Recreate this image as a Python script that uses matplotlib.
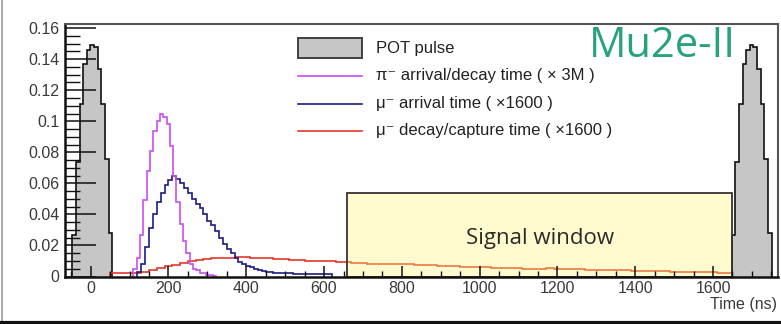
import numpy as np
import matplotlib
matplotlib.use("Agg")
import matplotlib.pyplot as plt
from matplotlib.patches import Rectangle
from matplotlib.lines import Line2D
from matplotlib.ticker import MultipleLocator, FormatStrFormatter

plt.rcParams['font.family'] = ['Liberation Sans', 'DejaVu Sans']

# ---------------- data ----------------
# POT pulse (offsets from pulse centre, ns) and heights
pot_offsets = [-47, -37.7, -28.4, -19.1, -9.8, -0.5, 8.8, 18.1, 27.4, 36.7, 46, 55.3]
pot_values = [0.027, 0.074, 0.111, 0.137, 0.146, 0.149, 0.148, 0.134, 0.111, 0.076, 0.028]
pot_centres = [0, 1695]

# pi- arrival/decay time (x 3M)
pi_start, pi_width = 110, 8.5
pi_values = [0.005, 0.012, 0.027, 0.049, 0.068, 0.081, 0.094, 0.100, 0.105, 0.103,
             0.098, 0.084, 0.065, 0.048, 0.034, 0.023, 0.015, 0.008, 0.005, 0.004,
             0.002, 0.002, 0.001, 0.001, 0.0005]

# mu- arrival time (x1600)
mu_start, mu_width = 120, 10
mu_values = [0.003, 0.008, 0.019, 0.031, 0.040, 0.048, 0.054, 0.059, 0.062, 0.065,
             0.063, 0.060, 0.057, 0.054, 0.050, 0.047, 0.044, 0.040, 0.036, 0.033,
             0.029, 0.025, 0.021, 0.018, 0.015, 0.012, 0.0095, 0.008, 0.0068, 0.0058,
             0.0049, 0.0042, 0.0036, 0.0031, 0.0028, 0.0025, 0.0023, 0.0021, 0.002, 0.002,
             0.0019, 0.0019, 0.0018, 0.0018, 0.0017, 0.0017, 0.0016, 0.0015, 0.0015, 0.0014]

# mu- decay/capture time (x1600)
dec_start, dec_width = 50, 20
dec_values = [0.0021, 0.0021, 0.0022, 0.0024, 0.0030, 0.0040, 0.0052, 0.0066, 0.0077, 0.0088,
              0.0098, 0.0106, 0.0112, 0.0116, 0.0119, 0.0122, 0.0123, 0.0123, 0.0122, 0.0121,
              0.0118, 0.0114, 0.0112, 0.0108, 0.0105, 0.0103, 0.0101, 0.0100, 0.0098, 0.0096,
              0.0092, 0.0090, 0.0088, 0.0082, 0.0080, 0.0081, 0.0079, 0.0080, 0.0078, 0.0076,
              0.0074, 0.0072, 0.0070, 0.0069, 0.0067, 0.0064, 0.0060, 0.0058, 0.0060, 0.0056,
              0.0055, 0.0054, 0.0052, 0.0051, 0.0050, 0.0050, 0.0052, 0.0051, 0.0050, 0.0048,
              0.0046, 0.0045, 0.0043, 0.0044, 0.0042, 0.0041, 0.0040, 0.0038, 0.0037, 0.0036,
              0.0034, 0.0035, 0.0032, 0.0030, 0.0029, 0.0028, 0.0027, 0.0026, 0.0025, 0.0024]

signal_window = (660, 1650)
signal_height = 0.054

legend_labels = ["POT pulse",
                 "π⁻ arrival/decay time ( × 3M )",
                 "μ⁻ arrival time ( ×1600 )",
                 "μ⁻ decay/capture time ( ×1600 )"]

# ---------------- figure ----------------
W, H = 781, 324
fig = plt.figure(figsize=(W / 100, H / 100), dpi=100)
ax = fig.add_axes([65 / W, (H - 276.5) / H, (778 - 65) / W, (276.5 - 23.5) / H])

c_pi = '#c84ef0'
c_mu = '#1c1c80'
c_dec = '#e03a2a'

# POT pulses
for c in pot_centres:
    edges = np.array(pot_offsets) + c
    ax.stairs(pot_values, edges, baseline=0, fill=True, facecolor='#c6c6c6',
              edgecolor='none', zorder=1.5)
    ax.stairs(pot_values, edges, baseline=0, fill=False, color='#111111',
              linewidth=1.2, zorder=1.6)

pi_edges = pi_start + pi_width * np.arange(len(pi_values) + 1)
mu_edges = mu_start + mu_width * np.arange(len(mu_values) + 1)
dec_edges = dec_start + dec_width * np.arange(len(dec_values) + 1)

ax.stairs(dec_values, dec_edges, baseline=0, color=c_dec, linewidth=1.2, zorder=2)
ax.stairs(mu_values, mu_edges, baseline=0, color=c_mu, linewidth=1.2, zorder=2.05)
ax.stairs(pi_values, pi_edges, baseline=0, color=c_pi, linewidth=1.2, zorder=2.1)

# signal window
ax.add_patch(Rectangle((signal_window[0], 0), signal_window[1] - signal_window[0], signal_height,
                       facecolor=(1.0, 0.955, 0.45), alpha=0.35, edgecolor='none', zorder=2.2))
ax.add_patch(Rectangle((signal_window[0], 0), signal_window[1] - signal_window[0], signal_height,
                       facecolor='none', edgecolor='#333333', linewidth=1.3, zorder=2.25))
ax.text(sum(signal_window) / 2, 0.0245, "Signal window", ha='center', va='center',
        fontsize=16, family=['Open Sans', 'DejaVu Sans'], color='#2a2a2a', zorder=3)

ax.set_xlim(-66, 1767)
ax.set_ylim(0, 0.163)

ax.set_axisbelow(False)
ax.xaxis.set_major_locator(MultipleLocator(200))
ax.xaxis.set_minor_locator(MultipleLocator(50))
ax.yaxis.set_major_locator(MultipleLocator(0.02))
ax.yaxis.set_minor_locator(MultipleLocator(0.005))
ax.yaxis.set_major_formatter(FormatStrFormatter('%g'))
ax.xaxis.set_major_formatter(FormatStrFormatter('%g'))

ax.tick_params(axis='both', which='both', direction='in', colors='#111111',
               labelcolor='#3a3a3a', labelsize=11.5)
ax.tick_params(axis='x', which='major', length=8, width=1.1, pad=3)
ax.tick_params(axis='x', which='minor', length=4.5, width=1.0)
ax.tick_params(axis='y', which='major', length=22, width=1.1, pad=4)
ax.tick_params(axis='y', which='minor', length=11, width=1.0)

for s in ['left', 'bottom']:
    ax.spines[s].set_linewidth(1.8)
    ax.spines[s].set_color('#111111')
for s in ['top', 'right']:
    ax.spines[s].set_linewidth(1.5)
    ax.spines[s].set_color('#555555')

fig.text(777 / W, 1 - 304 / H, "Time (ns)", ha='right', va='center', fontsize=11.5, color='#3a3a3a')

# legend (manual, no frame)
leg_x0, leg_x1, text_x = 298, 362, 376
rows = [48, 76, 103.5, 131]
fig.patches.append(Rectangle((leg_x0 / W, 1 - 57.5 / H), (leg_x1 - leg_x0) / W, 19 / H,
                             transform=fig.transFigure, facecolor='#c6c6c6',
                             edgecolor='#333333', linewidth=1.3))
for y, c in zip(rows[1:], [c_pi, c_mu, c_dec]):
    fig.lines.append(Line2D([leg_x0 / W, leg_x1 / W], [1 - y / H, 1 - y / H],
                            transform=fig.transFigure, color=c, linewidth=1.2))
for y, lab in zip(rows, legend_labels):
    fig.text(text_x / W, 1 - y / H, lab, ha='left', va='center', fontsize=12, color='#222222')

fig.text(662 / W, 1 - 46 / H, "Mu2e-II", ha='center', va='center', fontsize=30,
         family=['Open Sans', 'DejaVu Sans'], color='#27a37a')

# figure border
fig.lines.append(Line2D([1.5 / W, 1.5 / W], [0, 1], transform=fig.transFigure,
                        color='#999999', linewidth=1.2))
fig.lines.append(Line2D([0, 1], [1.5 / H, 1.5 / H], transform=fig.transFigure,
                        color='#111111', linewidth=3))

fig.savefig("out.png", dpi=100)
